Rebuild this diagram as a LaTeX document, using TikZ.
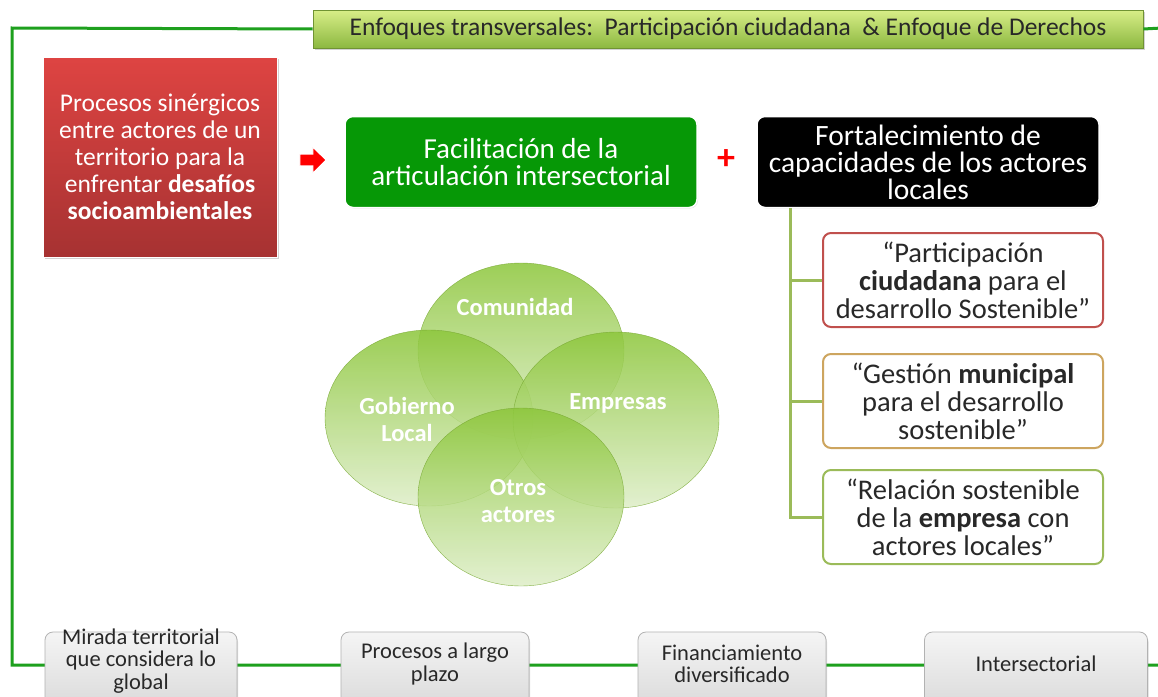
\documentclass[tikz,border=0pt]{standalone}
\usepackage{fontspec}
\setmainfont{Carlito}
\newfontfamily\narrowfont{Carlito}
\usetikzlibrary{shapes.arrows,shadows}
\definecolor{frameg}{RGB}{30,160,30}
\definecolor{bantop}{RGB}{216,238,136}
\definecolor{banbot}{RGB}{140,184,64}
\definecolor{redtop}{RGB}{222,68,66}
\definecolor{redbot}{RGB}{166,50,50}
\definecolor{boxgreen}{RGB}{6,152,6}
\definecolor{olive}{RGB}{155,187,89}
\definecolor{bred}{RGB}{192,80,77}
\definecolor{btan}{RGB}{205,165,95}
\definecolor{txt}{RGB}{40,40,40}
\definecolor{ctop}{RGB}{140,198,58}
\definecolor{cbot}{RGB}{222,238,200}
\tikzset{
  frame/.style={draw=frameg,line width=3pt},
  banner/.style={draw=banbot!80!black,line width=0.6pt,top color=bantop,bottom color=banbot,minimum width=830pt,minimum height=38pt,inner sep=0pt,font=\fontsize{25.5}{28}\selectfont,text=txt,drop shadow={opacity=0.35,shadow xshift=2pt,shadow yshift=-2pt}},
  redbox/.style={draw=white,line width=0.8pt,top color=redtop,bottom color=redbot,minimum width=234pt,minimum height=200pt,inner sep=0pt,text=white,align=center,font=\fontsize{25.5}{27}\selectfont,drop shadow={opacity=0.35,shadow xshift=2pt,shadow yshift=-2pt}},
  headbox/.style={draw=white,line width=1.5pt,rounded corners=8pt,minimum width=352pt,minimum height=91pt,inner sep=0pt,text=white,align=center,drop shadow={opacity=0.2,shadow xshift=1pt,shadow yshift=-1pt}},
  quote/.style={fill=white,line width=2pt,rounded corners=8pt,minimum width=280pt,minimum height=94pt,inner sep=0pt,text=txt,align=center,font=\fontsize{28.5}{28}\selectfont},
  ctext/.style={text=white,font=\fontsize{24.5}{27}\selectfont\bfseries,align=center},
  conn/.style={draw=olive,line width=3pt},
  bottombox/.style={draw=gray!60,line width=0.8pt,rounded corners=8pt,top color=gray!8,bottom color=gray!30,minimum height=80pt,inner sep=0pt,drop shadow={opacity=0.3,shadow xshift=1pt,shadow yshift=-2pt}},
  btext/.style={text=txt,align=center,inner sep=0pt,font=\narrowfont\fontsize{22.5}{22.5}\selectfont}
}
\begin{document}
\begin{tikzpicture}[x=1pt,y=-1pt]
\useasboundingbox (0,0) rectangle (1158,696);
\clip (0,0) rectangle (1158,696);
\fill[white] (0,0) rectangle (1158,696);
% frame
\coordinate (tl) at (12,28);
\coordinate (bl) at (12,665);
\coordinate (br) at (1162,665);
\coordinate (tr) at (1162,28);
\node[banner] (ban) at (728,29) {Enfoques transversales:\ \ Participación ciudadana \ \& Enfoque de Derechos};
\draw[frame] (ban.west) -- (tl) -- (bl) -- (br);
\draw[frame] (ban.east) -- (tr);
% red box
\node[redbox] (red) at (160,157) {Procesos sinérgicos\\entre actores de un\\territorio para la\\enfrentar \textbf{desafíos}\\\textbf{socioambientales}};
% arrow
\node[single arrow,fill=red,draw=white,line width=1pt,minimum height=26pt,minimum width=26pt,single arrow head extend=3pt,inner sep=2pt] (arr) at (310,160) {};
% head boxes
\node[headbox,fill=boxgreen,font=\fontsize{29}{27}\selectfont] (fac) at (521,162) {Facilitación de la\\articulación intersectorial};
\node[text=red,font=\fontsize{36}{36}\selectfont\bfseries] (plus) at (726,160) {+};
\node[headbox,fill=black,minimum width=342pt,font=\fontsize{29.5}{27}\selectfont] (fort) at (928,162) {Fortalecimiento de\\capacidades de los actores\\locales};
% quote boxes
\node[quote,draw=bred] (q1) at (963,280) {“Participación\\\textbf{ciudadana} para el\\desarrollo Sostenible”};
\node[quote,draw=btan] (q2) at (963,401) {“Gestión \textbf{municipal}\\para el desarrollo\\sostenible”};
\node[quote,draw=olive] (q3) at (963,517) {“Relación sostenible\\de la \textbf{empresa} con\\actores locales”};
\coordinate (tx) at (790,0);
\draw[conn] (fort.south -| tx) |- (q3.west);
\draw[conn] (q1.west) -- (q1.west -| tx);
\draw[conn] (q2.west) -- (q2.west -| tx);
% circles
\begin{scope}[opacity=0.85]
\shade[top color=ctop,bottom color=cbot,draw=ctop!85!black,line width=0.4pt] (521,351) ellipse (103pt and 88pt);
\shade[top color=ctop,bottom color=cbot,draw=ctop!85!black,line width=0.4pt] (429,418) ellipse (104pt and 88pt);
\shade[top color=ctop,bottom color=cbot,draw=ctop!85!black,line width=0.4pt] (616,420) ellipse (103pt and 88pt);
\shade[top color=ctop,bottom color=cbot,draw=ctop!85!black,line width=0.4pt] (521,497) ellipse (103pt and 89pt);
\end{scope}
\node[ctext] (com) at (515,307) {Comunidad};
\node[ctext] (gob) at (407,419) {Gobierno\\Local};
\node[ctext] (emp) at (618,403) {Empresas};
\node[ctext] (otr) at (518,501) {Otros\\actores};
% bottom boxes
\node[bottombox,minimum width=192pt] (m1) at (141,672) {};
\node[bottombox,minimum width=188pt] (m2) at (435,672) {};
\node[bottombox,minimum width=188pt] (m3) at (732,672) {};
\node[bottombox,minimum width=223pt] (m4) at (1036,672) {};
\node[btext] (m1t) at (141,661) {Mirada territorial\\que considera lo\\global};
\node[btext] (m2t) at (435,664) {Procesos a largo\\plazo};
\node[btext] (m3t) at (732,664) {Financiamiento\\diversificado};
\node[btext] (m4t) at (1036,664) {Intersectorial};
\end{tikzpicture}
\end{document}
